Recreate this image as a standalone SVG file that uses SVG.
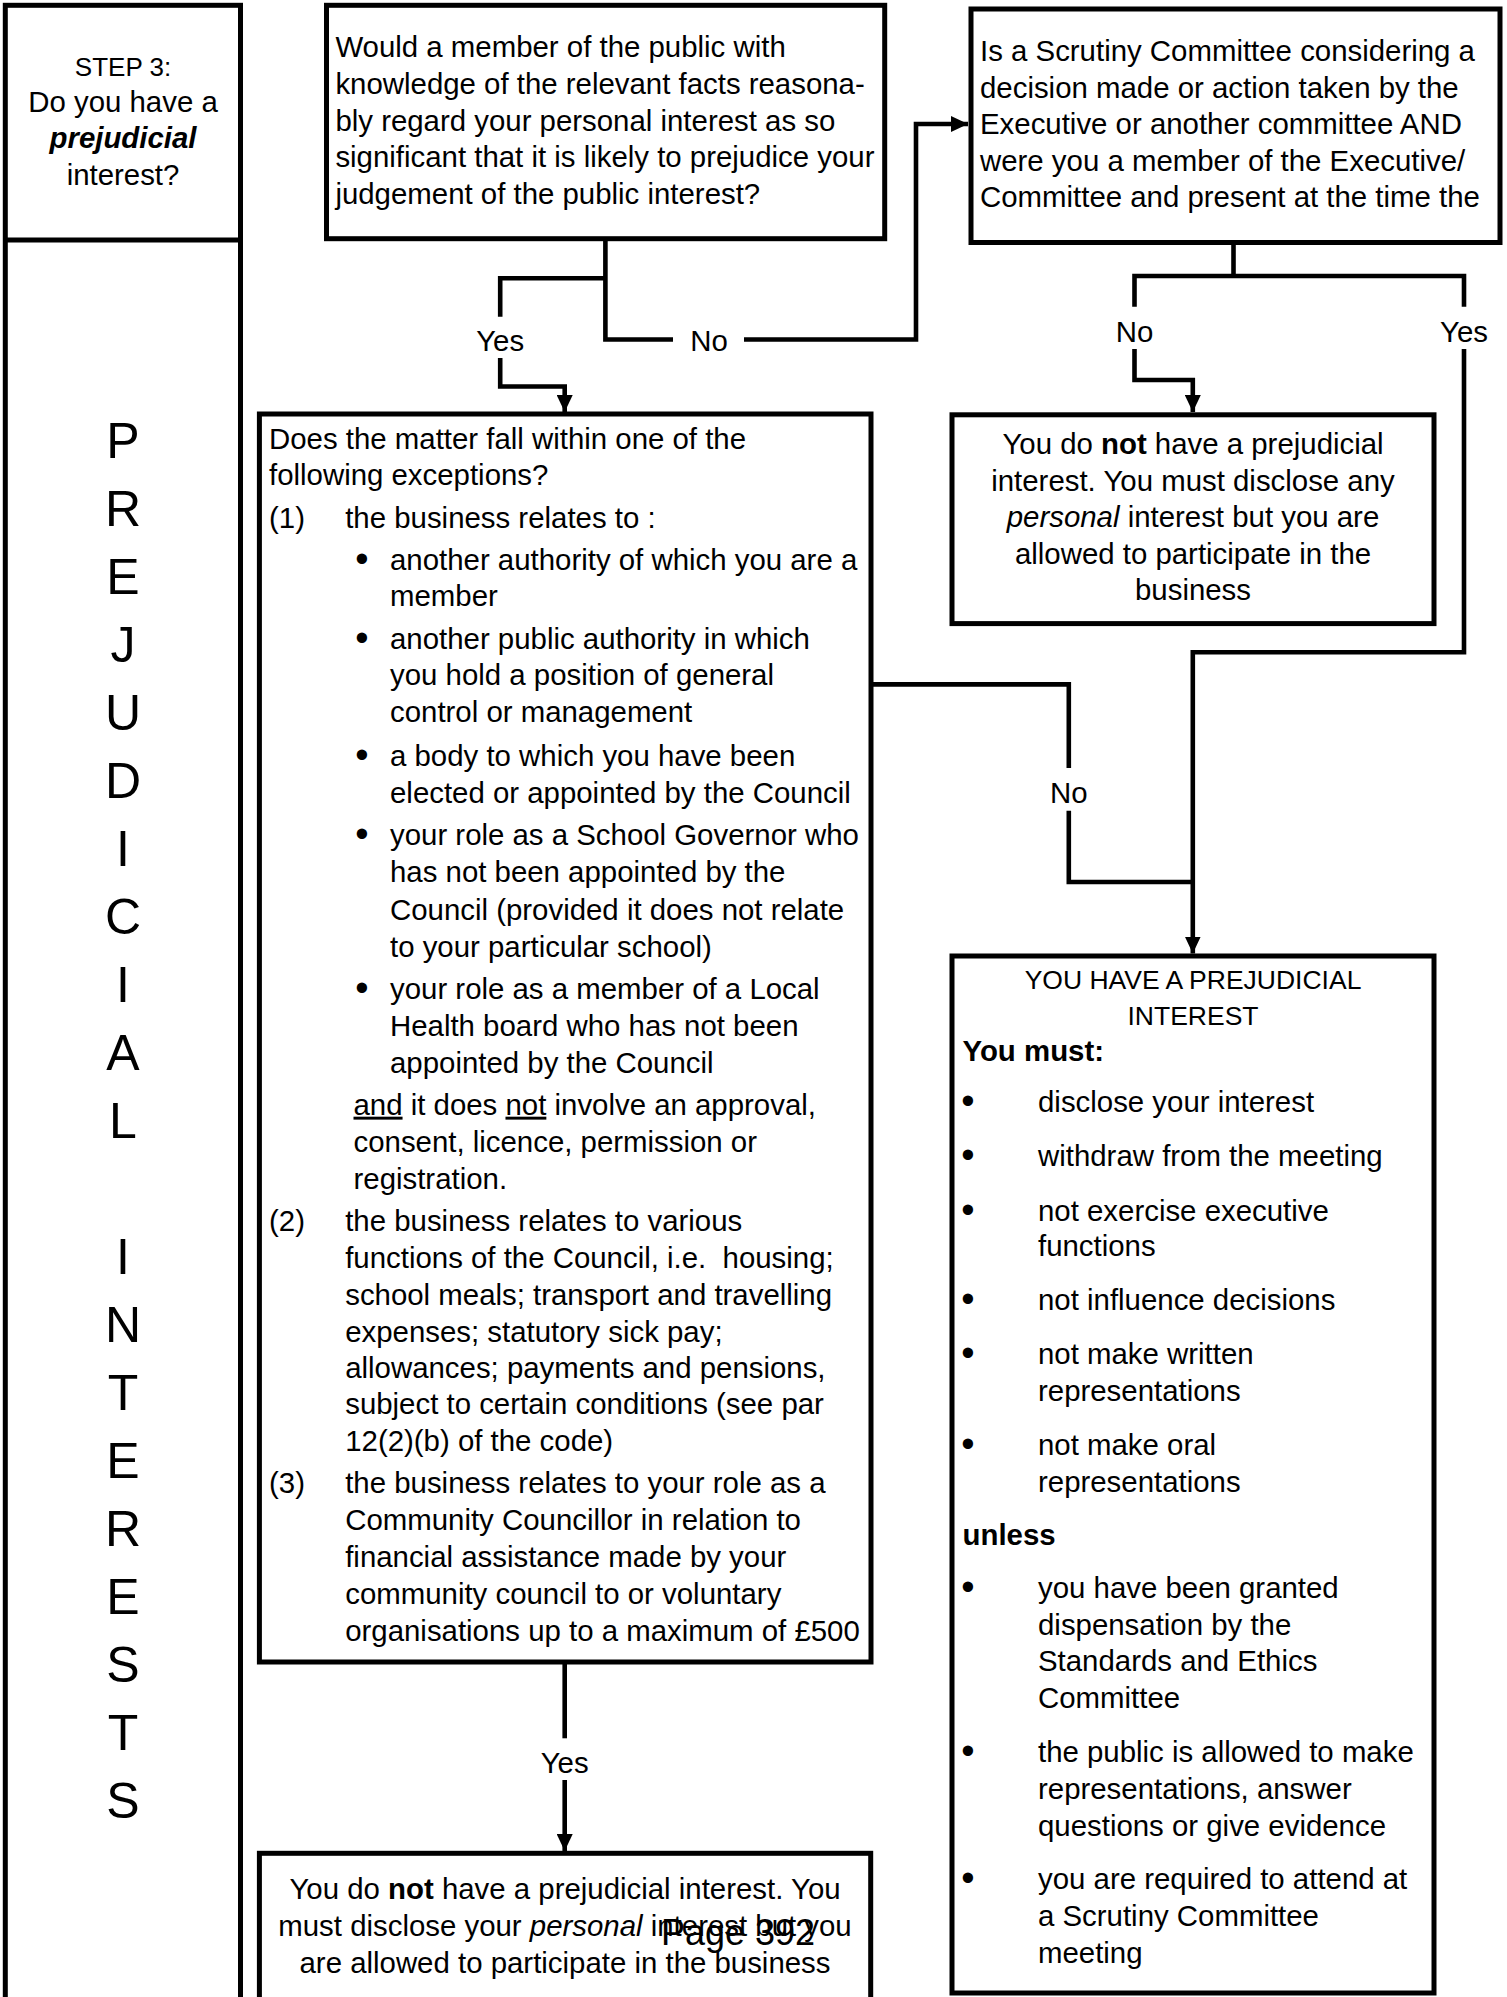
<svg xmlns="http://www.w3.org/2000/svg" width="1507" height="1997" viewBox="0 0 1507 1997">
<style>
.t{font-family:"Liberation Sans",Arial,sans-serif;font-size:29.4px;fill:#000}
.m{text-anchor:middle}
.b{font-weight:bold}
.i{font-style:italic}
.u{text-decoration:underline}
.dot{font-family:"Liberation Sans",Arial,sans-serif;font-size:38px;fill:#000;text-anchor:middle}
.box{fill:#fff;stroke:#000;stroke-width:5}
.c{fill:none;stroke:#000;stroke-width:4.6;stroke-linejoin:miter}
.big{font-family:"Liberation Sans",Arial,sans-serif;font-size:50px;fill:#000;text-anchor:middle}
</style>
<defs>
<marker id="arr" markerUnits="userSpaceOnUse" markerWidth="17" markerHeight="16" viewBox="0 0 17 16" refX="17" refY="8" orient="auto">
<path d="M0,0 L17,8 L0,16 z" fill="#000"/>
</marker>
</defs>
<rect width="1507" height="1997" fill="#fff"/>

<g id="side">
<rect class="box" x="5.3" y="5.3" width="235.2" height="2100"/>
<line x1="5.3" y1="240" x2="240.5" y2="240" stroke="#000" stroke-width="5"/>
<text class="t m" x="123" y="75.5" style="font-size:26px">STEP 3:</text>
<text class="t m" x="123" y="111.5">Do you have a</text>
<text class="t m b i" x="123" y="148">prejudicial</text>
<text class="t m" x="123" y="184.7">interest?</text>
<text class="big" x="123" y="458">P</text>
<text class="big" x="123" y="526">R</text>
<text class="big" x="123" y="594">E</text>
<text class="big" x="123" y="662">J</text>
<text class="big" x="123" y="730">U</text>
<text class="big" x="123" y="798">D</text>
<text class="big" x="123" y="866">I</text>
<text class="big" x="123" y="934">C</text>
<text class="big" x="123" y="1002">I</text>
<text class="big" x="123" y="1070">A</text>
<text class="big" x="123" y="1138">L</text>
<text class="big" x="123" y="1274">I</text>
<text class="big" x="123" y="1342">N</text>
<text class="big" x="123" y="1410">T</text>
<text class="big" x="123" y="1478">E</text>
<text class="big" x="123" y="1546">R</text>
<text class="big" x="123" y="1614">E</text>
<text class="big" x="123" y="1682">S</text>
<text class="big" x="123" y="1750">T</text>
<text class="big" x="123" y="1818">S</text>
</g>

<g id="connectors">
<path class="c" d="M605.4,240 V339.5 H673"/>
<path class="c" d="M605.4,278.3 H500.2 V316.7"/>
<path class="c" d="M500.2,358 V386.5 H564.7 V412" marker-end="url(#arr)"/>
<path class="c" d="M744,339.5 H916 V124 H968" marker-end="url(#arr)"/>
<path class="c" d="M1233.5,244 V276"/>
<path class="c" d="M1134.5,306.7 V276 H1464 V306.7"/>
<path class="c" d="M1134.5,349 V380 H1192.8 V412" marker-end="url(#arr)"/>
<path class="c" d="M1464,349 V652.3 H1192.8 V953.5" marker-end="url(#arr)"/>
<path class="c" d="M871,684.4 H1068.8 V768"/>
<path class="c" d="M1068.8,810.7 V882 H1192.8"/>
<path class="c" d="M564.7,1664 V1738.3"/>
<path class="c" d="M564.7,1780 V1851" marker-end="url(#arr)"/>
<text class="t m" x="500.2" y="350.7">Yes</text>
<text class="t m" x="709" y="350.7">No</text>
<text class="t m" x="1134.5" y="341.8">No</text>
<text class="t m" x="1464" y="341.8">Yes</text>
<text class="t m" x="1068.8" y="802.5">No</text>
<text class="t m" x="564.7" y="1773">Yes</text>
</g>

<g id="q1">
<rect class="box" x="326.5" y="5.3" width="558.2" height="233.4"/>
<text class="t" x="335.4" y="57.4">Would a member of the public with</text>
<text class="t" x="335.4" y="94">knowledge of the relevant facts reasona-</text>
<text class="t" x="335.4" y="130.6">bly regard your personal interest as so</text>
<text class="t" x="335.4" y="167.2">significant that it is likely to prejudice your</text>
<text class="t" x="335.4" y="203.8">judgement of the public interest?</text>
</g>

<g id="q2">
<rect class="box" x="971" y="9" width="529" height="233.5"/>
<text class="t" x="980" y="61">Is a Scrutiny Committee considering a</text>
<text class="t" x="980" y="97.6">decision made or action taken by the</text>
<text class="t" x="980" y="134.2">Executive or another committee AND</text>
<text class="t" x="980" y="170.8">were you a member of the Executive/</text>
<text class="t" x="980" y="207.4">Committee and present at the time the</text>
</g>

<g id="notprej1">
<rect class="box" x="952" y="414.8" width="482" height="208.8"/>
<text class="t m" x="1193" y="454">You do <tspan class="b">not</tspan> have a prejudicial</text>
<text class="t m" x="1193" y="490.5">interest. You must disclose any</text>
<text class="t m" x="1193" y="527"><tspan class="i">personal</tspan> interest but you are</text>
<text class="t m" x="1193" y="563.5">allowed to participate in the</text>
<text class="t m" x="1193" y="600">business</text>
</g>

<g id="exceptions">
<rect class="box" x="259.4" y="414" width="611.6" height="1248"/>
<text class="t" x="269" y="448.5">Does the matter fall within one of the</text>
<text class="t" x="269" y="485.4">following exceptions?</text>
<text class="t" x="269" y="527.5">(1)</text>
<text class="t" x="345.2" y="527.5">the business relates to :</text>
<text class="dot" x="362" y="571.5">•</text>
<text class="t" x="390" y="569.5">another authority of which you are a</text>
<text class="t" x="390" y="606.4">member</text>
<text class="dot" x="362" y="650.5">•</text>
<text class="t" x="390" y="648.5">another public authority in which</text>
<text class="t" x="390" y="685.4">you hold a position of general</text>
<text class="t" x="390" y="722.4">control or management</text>
<text class="dot" x="362" y="767.7">•</text>
<text class="t" x="390" y="765.7">a body to which you have been</text>
<text class="t" x="390" y="802.6">elected or appointed by the Council</text>
<text class="dot" x="362" y="846.7">•</text>
<text class="t" x="390" y="844.7">your role as a School Governor who</text>
<text class="t" x="390" y="881.6">has not been appointed by the</text>
<text class="t" x="390" y="919.8">Council (provided it does not relate</text>
<text class="t" x="390" y="956.7">to your particular school)</text>
<text class="dot" x="362" y="1000.8">•</text>
<text class="t" x="390" y="998.8">your role as a member of a Local</text>
<text class="t" x="390" y="1035.7">Health board who has not been</text>
<text class="t" x="390" y="1072.7">appointed by the Council</text>
<text class="t" x="353.5" y="1114.7"><tspan class="u">and</tspan> it does <tspan class="u">not</tspan> involve an approval,</text>
<text class="t" x="353.5" y="1151.7">consent, licence, permission or</text>
<text class="t" x="353.5" y="1188.6">registration.</text>
<text class="t" x="269" y="1230.6">(2)</text>
<text class="t" x="345.2" y="1230.6">the business relates to various</text>
<text class="t" x="345.2" y="1267.6" xml:space="preserve">functions of the Council, i.e.  housing;</text>
<text class="t" x="345.2" y="1304.5">school meals; transport and travelling</text>
<text class="t" x="345.2" y="1341.5">expenses; statutory sick pay;</text>
<text class="t" x="345.2" y="1378.4">allowances; payments and pensions,</text>
<text class="t" x="345.2" y="1414.1">subject to certain conditions (see par</text>
<text class="t" x="345.2" y="1451">12(2)(b) of the code)</text>
<text class="t" x="269" y="1493.1">(3)</text>
<text class="t" x="345.2" y="1493.1">the business relates to your role as a</text>
<text class="t" x="345.2" y="1530">Community Councillor in relation to</text>
<text class="t" x="345.2" y="1566.9">financial assistance made by your</text>
<text class="t" x="345.2" y="1603.9">community council to or voluntary</text>
<text class="t" x="345.2" y="1640.8">organisations up to a maximum of £500</text>
</g>

<g id="notprej2">
<rect class="box" x="259.4" y="1853.3" width="611.3" height="200"/>
<text class="t m" x="565" y="1898.5">You do <tspan class="b">not</tspan> have a prejudicial interest. You</text>
<text class="t m" x="565" y="1935.5">must disclose your <tspan class="i">personal</tspan> interest but you</text>
<text class="t m" x="565" y="1972.5">are allowed to participate in the business</text>
</g>

<g id="prej">
<rect class="box" x="952" y="956" width="482" height="1037"/>
<text class="t m" x="1193" y="988.5" style="font-size:26.5px">YOU HAVE A PREJUDICIAL</text>
<text class="t m" x="1193" y="1024.5" style="font-size:26.5px">INTEREST</text>
<text class="t b" x="962.5" y="1060.5">You must:</text>
<text class="dot" x="968" y="1114.2">•</text>
<text class="t" x="1038" y="1112.2">disclose your interest</text>
<text class="dot" x="968" y="1167.7">•</text>
<text class="t" x="1038" y="1165.7">withdraw from the meeting</text>
<text class="dot" x="968" y="1222.5">•</text>
<text class="t" x="1038" y="1220.5">not exercise executive</text>
<text class="t" x="1038" y="1256.1">functions</text>
<text class="dot" x="968" y="1311.6">•</text>
<text class="t" x="1038" y="1309.6">not influence decisions</text>
<text class="dot" x="968" y="1366.4">•</text>
<text class="t" x="1038" y="1364.4">not make written</text>
<text class="t" x="1038" y="1401.3">representations</text>
<text class="dot" x="968" y="1456.9">•</text>
<text class="t" x="1038" y="1454.9">not make oral</text>
<text class="t" x="1038" y="1491.8">representations</text>
<text class="t b" x="962.5" y="1545.3">unless</text>
<text class="dot" x="968" y="1599.5">•</text>
<text class="t" x="1038" y="1597.5">you have been granted</text>
<text class="t" x="1038" y="1634.5">dispensation by the</text>
<text class="t" x="1038" y="1671.4">Standards and Ethics</text>
<text class="t" x="1038" y="1708.4">Committee</text>
<text class="dot" x="968" y="1763.9">•</text>
<text class="t" x="1038" y="1761.9">the public is allowed to make</text>
<text class="t" x="1038" y="1798.8">representations, answer</text>
<text class="t" x="1038" y="1835.7">questions or give evidence</text>
<text class="dot" x="968" y="1891.3">•</text>
<text class="t" x="1038" y="1889.3">you are required to attend at</text>
<text class="t" x="1038" y="1926.2">a Scrutiny Committee</text>
<text class="t" x="1038" y="1963.1">meeting</text>
</g>

<text class="t" x="661" y="1945" style="font-size:36px">Page 392</text>
</svg>
